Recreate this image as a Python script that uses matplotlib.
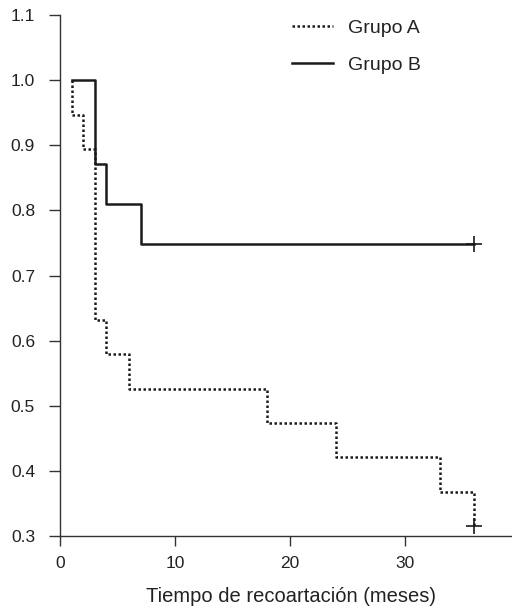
import matplotlib
matplotlib.use("Agg")
import matplotlib.pyplot as plt

plt.rcParams['font.family'] = ['Liberation Sans', 'DejaVu Sans']

# Data (Kaplan-Meier steps)
a_times = [1, 1, 2, 3, 4, 6, 18, 24, 33, 36]
a_surv = [1.0, 0.947, 0.895, 0.632, 0.579, 0.526, 0.474, 0.421, 0.368, 0.316]
a_censor_t = [36]
a_censor_s = [0.316]

b_times = [1, 3, 4, 7, 36]
b_surv = [1.0, 0.871, 0.810, 0.748, 0.748]
b_censor_t = [36]
b_censor_s = [0.748]

x_ticks = [0, 10, 20, 30]
y_ticks = [0.3, 0.4, 0.5, 0.6, 0.7, 0.8, 0.9, 1.0, 1.1]
labels = ["Grupo A", "Grupo B"]
xlabel = "Tiempo de recoartación (meses)"

fig = plt.figure(figsize=(5.12, 6.10), dpi=100)
ax = fig.add_axes([60/512, 74/610, 452/512, 521/610])

c = '#1a1a1a'
ax.step(a_times, a_surv, where='post', color=c, lw=1.8, ls=(0, (1, 1)), label=labels[0])
ax.step(b_times, b_surv, where='post', color=c, lw=1.8, ls='-', label=labels[1])
ax.plot(a_censor_t, a_censor_s, '+', color=c, ms=11, mew=1.2)
ax.plot(b_censor_t, b_censor_s, '+', color=c, ms=11, mew=1.2)

ax.set_xlim(0, 452/11.5)
ax.set_ylim(0.3, 1.1)
ax.set_xticks(x_ticks)
ax.set_yticks(y_ticks)
ax.set_yticklabels([f"{v:.1f}" for v in y_ticks])
ax.spines['top'].set_visible(False)
ax.spines['right'].set_visible(False)
for s in ['left', 'bottom']:
    ax.spines[s].set_linewidth(1.0)
    ax.spines[s].set_color('#333333')
ax.tick_params(axis='both', labelsize=12.5, colors='#333333', labelcolor='#222222', width=1.0)
ax.tick_params(axis='x', length=7.5, pad=7)
ax.tick_params(axis='y', length=8, pad=10)

ax.set_xlabel(xlabel, fontsize=14.5, color='#222222')
ax.xaxis.set_label_coords(0.512, -0.097)

leg = ax.legend(loc='upper left', bbox_to_anchor=(0.4746, 1.025), frameon=False,
                fontsize=14, handlelength=2.1, handletextpad=0.77, labelspacing=1.0)
for t in leg.get_texts():
    t.set_color('#222222')

fig.savefig("out.png", dpi=100)
